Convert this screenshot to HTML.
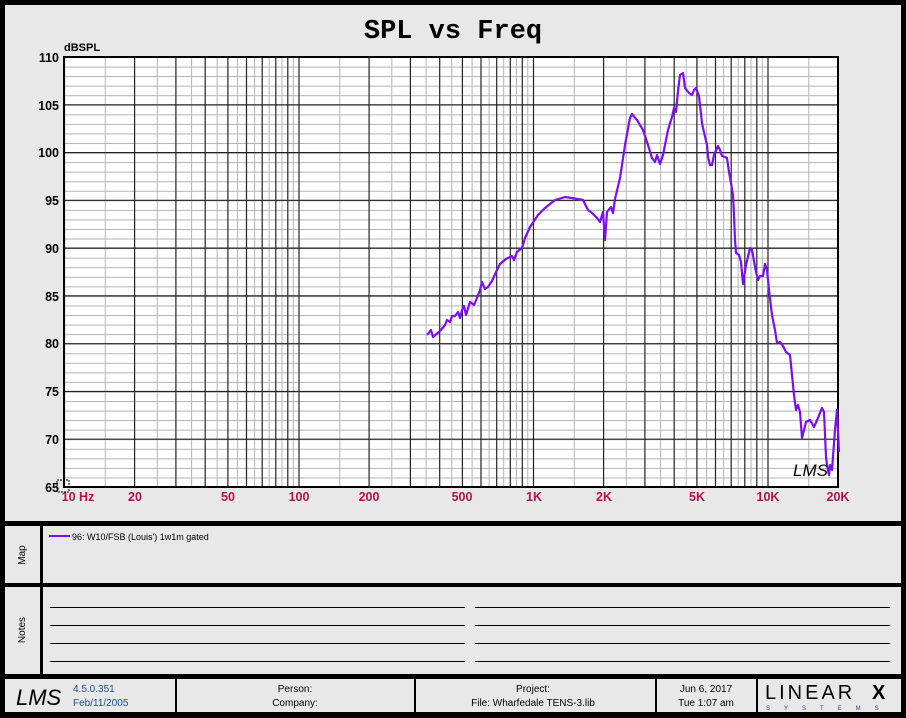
<!DOCTYPE html>
<html><head><meta charset="utf-8"><style>
html,body{margin:0;padding:0;background:#fff}
svg{display:block}
text{font-family:"Liberation Sans",Arial,sans-serif}
</style></head><body>
<svg width="906" height="718" viewBox="0 0 906 718" xmlns="http://www.w3.org/2000/svg">
<defs>
<clipPath id="pc"><rect x="64" y="57" width="774" height="430"/></clipPath>
<pattern id="hmin" x="0" y="57" width="10" height="9.556" patternUnits="userSpaceOnUse"><rect x="0" y="0" width="10" height="1" fill="#b4b4b4"/></pattern>
<g id="gd">
<path d="M64.5 57V487M134.6 57V487M175.9 57V487M205.2 57V487M227.9 57V487M246.5 57V487M262.2 57V487M275.8 57V487M287.8 57V487" stroke="#222" stroke-width="1.2" fill="none"/>
<path d="M105.3 57V487M157.3 57V487M191.6 57V487M217.2 57V487M237.6 57V487M254.6 57V487M269.2 57V487M282 57V487M293.3 57V487" stroke="#b4b4b4" stroke-width="1" fill="none"/>
</g>
</defs>
<rect x="0" y="0" width="906" height="718" fill="#000"/>
<rect x="5" y="5" width="896" height="516" fill="#e8e8e8"/>
<rect x="5" y="526" width="35" height="57" fill="#e8e8e8"/>
<rect x="43" y="526" width="858" height="57" fill="#e8e8e8"/>
<rect x="5" y="587" width="35" height="87" fill="#e8e8e8"/>
<rect x="43" y="587" width="858" height="87" fill="#e8e8e8"/>
<rect x="5" y="679" width="170" height="33" fill="#e8e8e8"/>
<rect x="177" y="679" width="237" height="33" fill="#e8e8e8"/>
<rect x="416" y="679" width="239" height="33" fill="#e8e8e8"/>
<rect x="657" y="679" width="99" height="33" fill="#e8e8e8"/>
<rect x="758" y="679" width="143" height="33" fill="#e8e8e8"/>

<text x="453" y="38" text-anchor="middle" style="font-family:'Liberation Mono',monospace;font-weight:bold;font-size:27px">SPL vs Freq</text>

<rect x="64" y="57" width="774" height="430" fill="#fff"/>
<rect x="64" y="57" width="774" height="430" fill="url(#hmin)"/>
<g clip-path="url(#pc)">
<use href="#gd"/>
<use href="#gd" transform="translate(234.5,0)"/>
<use href="#gd" transform="translate(469,0)"/>
<use href="#gd" transform="translate(703.5,0)"/>
<path d="M64 104.8H838M64 152.6H838M64 200.3H838M64 248.1H838M64 295.9H838M64 343.7H838M64 391.5H838M64 439.2H838" stroke="#222" stroke-width="1.2"/>
</g>
<rect x="64" y="57" width="774" height="430" fill="none" stroke="#000" stroke-width="2"/>

<g font-weight="bold" font-size="12.5" text-anchor="end">
<text x="59" y="62">110</text><text x="59" y="110">105</text><text x="59" y="157">100</text><text x="59" y="205">95</text><text x="59" y="253">90</text><text x="59" y="301">85</text><text x="59" y="348">80</text><text x="59" y="396">75</text><text x="59" y="444">70</text><text x="59" y="492">65</text>
</g>
<text x="64" y="51" font-weight="bold" font-size="11">dBSPL</text>
<g font-weight="bold" font-size="12.5" fill="#b0124e" text-anchor="middle">
<text x="78" y="501">10 Hz</text><text x="135" y="501">20</text><text x="228" y="501">50</text><text x="299" y="501">100</text><text x="369" y="501">200</text><text x="462" y="501">500</text><text x="534" y="501">1K</text><text x="604" y="501">2K</text><text x="697" y="501">5K</text><text x="768" y="501">10K</text><text x="838" y="501">20K</text>
</g>
<rect x="57" y="480" width="12" height="12" fill="none" stroke="#000" stroke-width="1" stroke-dasharray="2,1"/>

<polyline fill="none" stroke="#7a10f0" stroke-width="2.2" stroke-linejoin="round" points="427,335 431,330 433,337 440,331 445,325 447,320 450,322 452,316 455,316 458,312 460,318 462,310 464,306 466,315 470,302 474,305 477,298 480,290 482,282 485,289 488,287 492,281 496,272 500,264 506,259 512,256 514,260 517,252 522,248 525,238 530,227 538,215 545,208 555,200 565,197 572,198 583,200 588,210 592,213 597,218 600,222 603,212 605,240 607,212 611,207 613,213 615,199 620,178 625,145 630,118 632,114 637,120 643,130 648,145 652,158 655,162 657,155 660,164 663,155 668,130 672,117 674,108 676,112 678,91 680,75 683,73 685,88 689,93 692,95 694,90 696,88 699,96 702,123 703,128 707,145 708,157 710,165 712,165 714,155 718,146 720,150 722,156 725,157 727,158 729,172 731,183 733,195 734,215 735,240 736,253 739,255 741,262 743,284 746,265 750,248 752,250 756,272 758,280 760,276 763,276 765,264 767,270 769,290 772,315 775,330 777,343 780,342 783,346 786,352 790,355 794,395 796,410 798,405 800,412 802,438 806,422 810,420 814,427 818,418 822,408 824,412 826,457 827,465 829,475 830,465 832,470 835,430 837,410 839,452"/>
<text x="793" y="476" font-size="17" font-style="italic" font-family="'Liberation Serif',serif">LMS</text>

<text transform="translate(25,555) rotate(-90)" font-size="10" text-anchor="middle">Map</text>
<line x1="49" y1="536" x2="70" y2="536" stroke="#7a10f0" stroke-width="2"/>
<text x="72" y="540" font-size="9">96: W10/FSB (Louis') 1w1m gated</text>

<text transform="translate(25,630) rotate(-90)" font-size="10" text-anchor="middle">Notes</text>
<g stroke="#000" stroke-width="1">
<path d="M50 607.5H465M50 625.5H465M50 643.5H465M50 661.5H465M475 607.5H890M475 625.5H890M475 643.5H890M475 661.5H890"/>
</g>

<text x="16" y="705" font-size="22" font-style="italic" font-family="'Liberation Serif',serif">LMS</text>
<text x="73" y="692" font-size="10" fill="#1a4f8a">4.5.0.351</text>
<text x="73" y="706" font-size="10" fill="#1a4f8a">Feb/11/2005</text>
<text x="295" y="692" font-size="10" text-anchor="middle">Person:</text>
<text x="295" y="706" font-size="10" text-anchor="middle">Company:</text>
<text x="533" y="692" font-size="10" text-anchor="middle">Project:</text>
<text x="533" y="706" font-size="10" text-anchor="middle">File: Wharfedale TENS-3.lib</text>
<text x="706" y="692" font-size="10" text-anchor="middle">Jun  6, 2017</text>
<text x="706" y="706" font-size="10" text-anchor="middle">Tue  1:07 am</text>
<text x="765" y="699" font-size="20" font-family="'Liberation Serif',serif" letter-spacing="3">LINEAR</text>
<text x="872" y="699" font-size="20" font-weight="bold">X</text>
<text x="766" y="710" font-size="6" fill="#1a4f8a" letter-spacing="14">SYSTEMS</text>
</svg>
</body></html>
